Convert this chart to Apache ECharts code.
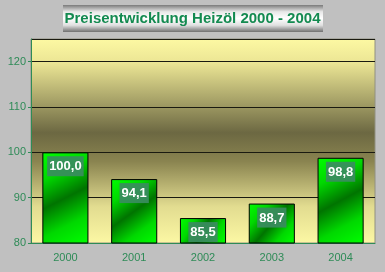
<!DOCTYPE html>
<html>
<head>
<meta charset="utf-8">
<script src="https://cdn.jsdelivr.net/npm/echarts@6/dist/echarts.min.js"></script>
<style>html,body{margin:0;padding:0;background:#c0c0c0;}#c{width:385px;height:272px;}</style>
</head>
<body>
<div id="c"></div>
<script>
var titleText = 'Preisentwicklung Heizöl 2000 - 2004';
var categories = ['2000', '2001', '2002', '2003', '2004'];
var values = [100.0, 94.1, 85.5, 88.7, 98.8];

var chart = echarts.init(document.getElementById('c'), null, {renderer: 'canvas'});
var green = '#2e8b57';
var barGrad = {type: 'linear', x: 0, y: 0, x2: 1, y2: 1, colorStops: [
  {offset: 0, color: '#00ff00'}, {offset: 0.25, color: '#00d800'}, {offset: 0.5, color: '#007400'},
  {offset: 0.75, color: '#00d800'}, {offset: 1, color: '#00ff00'}]};
chart.setOption({
  backgroundColor: '#c0c0c0',
  animation: false,
  textStyle: {fontFamily: 'Liberation Sans, Arial, sans-serif'},
  graphic: [
    {type: 'rect', left: 63, top: 5, shape: {width: 260, height: 27},
      style: {fill: {type: 'linear', x: 0, y: 0, x2: 0, y2: 1, colorStops: [
        {offset: 0, color: '#7a7a7a'}, {offset: 0.25, color: '#e8e8e8'}, {offset: 0.5, color: '#ffffff'},
        {offset: 0.75, color: '#e0e0e0'}, {offset: 1, color: '#707070'}]}}},
    {type: 'text', left: 'center', top: 11, style: {text: titleText, fill: '#138a50',
      font: 'bold 15px "Liberation Sans", Arial, sans-serif'}}
  ],
  grid: {left: 31, right: 10, top: 39, bottom: 29, show: true, borderColor: '#909080', borderWidth: 1,
    backgroundColor: {type: 'linear', x: 0, y: 0, x2: 0, y2: 1, colorStops: [
      {offset: 0, color: '#fdf9a3'}, {offset: 0.12, color: '#ebe594'}, {offset: 0.46, color: '#6c6842'},
      {offset: 0.6, color: '#8a8450'}, {offset: 0.82, color: '#e2dc90'}, {offset: 1, color: '#fcf8a4'}]}},
  xAxis: {type: 'category', data: categories,
    axisLine: {lineStyle: {color: green}},
    axisTick: {length: 3, lineStyle: {color: green}},
    axisLabel: {color: green, fontSize: 11, margin: 9}},
  yAxis: {type: 'value', min: 80, max: 125, interval: 10,
    axisLine: {show: true, lineStyle: {color: green}},
    axisTick: {show: true, length: 3, lineStyle: {color: green}},
    axisLabel: {color: green, fontSize: 11, margin: 5, showMaxLabel: false},
    splitLine: {lineStyle: {color: '#1a1a10', width: 1}}},
  series: [{type: 'bar', data: values, barCategoryGap: '33%',
    itemStyle: {color: barGrad, borderColor: '#000', borderWidth: 1},
    label: {show: true, position: 'insideTop', distance: 4, color: '#fff', fontWeight: 'bold', fontSize: 13,
      backgroundColor: 'rgba(58,140,96,0.92)', padding: [4, 2, 3, 2],
      formatter: function (p) { return p.value.toFixed(1).replace('.', ','); }}}]
});
</script>
</body>
</html>
